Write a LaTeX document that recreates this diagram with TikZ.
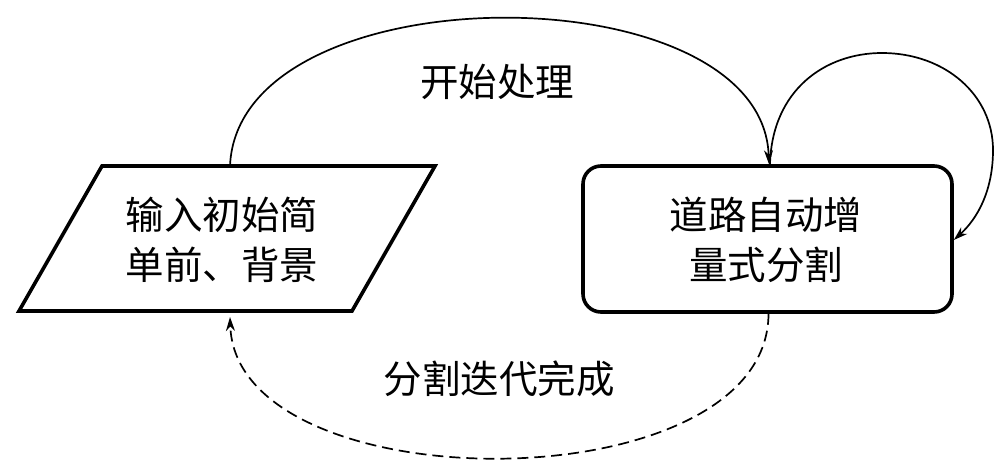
\documentclass[tikz,border=0pt]{standalone}
\usepackage{fontspec}
\setmainfont{Noto Sans CJK SC}
\usetikzlibrary{arrows.meta}
\tikzset{
  boxline/.style={line width=3.6pt, line join=miter},
  conn/.style={line width=1.7pt, -{Stealth[length=14pt,width=9pt]}},
  dconn/.style={conn, dash pattern=on 11pt off 6pt},
  lbl/.style={font=\fontsize{38.5}{50}\selectfont, align=center, inner sep=0pt},
}
\begin{document}
\begin{tikzpicture}[x=1pt,y=-1pt]
\useasboundingbox (0,0) rectangle (1000,463);
% parallelogram input box
\coordinate (P1) at (102,166);
\coordinate (P2) at (435,166);
\coordinate (P3) at (352,311);
\coordinate (P4) at (19,311);
\draw[boxline] (P1) -- (P2) -- (P3) -- (P4) -- cycle;
\node[lbl] (L) at (222,240) {输入初始简\\单前、背景};
\coordinate (Ltop) at (230,166);
\coordinate (Lbot) at (230,317);
% rounded processing box
\node[draw, boxline, rounded corners=18pt, minimum width=369pt, minimum height=146pt, inner sep=0pt] (R) at (767.5,239) {};
\node[lbl] (Rt) at (766,240) {道路自动增\\量式分割};
% top arc
\draw[conn] (Ltop) .. controls (238,-30) and (762,-30) .. ([xshift=1.5pt]R.north);
\node[lbl] (t1) at (497,82) {开始处理};
% self loop
\coordinate (S1) at (882,53);
\coordinate (S2) at (993,150);
\draw[conn] ([xshift=2.5pt]R.north) .. controls (772,90) and (825,53) .. (S1)
  .. controls (945,53) and (993,95) .. (S2)
  .. controls (993,190) and (978,218) .. ([yshift=-1pt]R.east);
% dashed return
\draw[dconn] ([xshift=1pt]R.south) .. controls (768,505) and (236,505) .. (Lbot);
\node[lbl] (t2) at (499,379) {分割迭代完成};
\end{tikzpicture}
\end{document}
